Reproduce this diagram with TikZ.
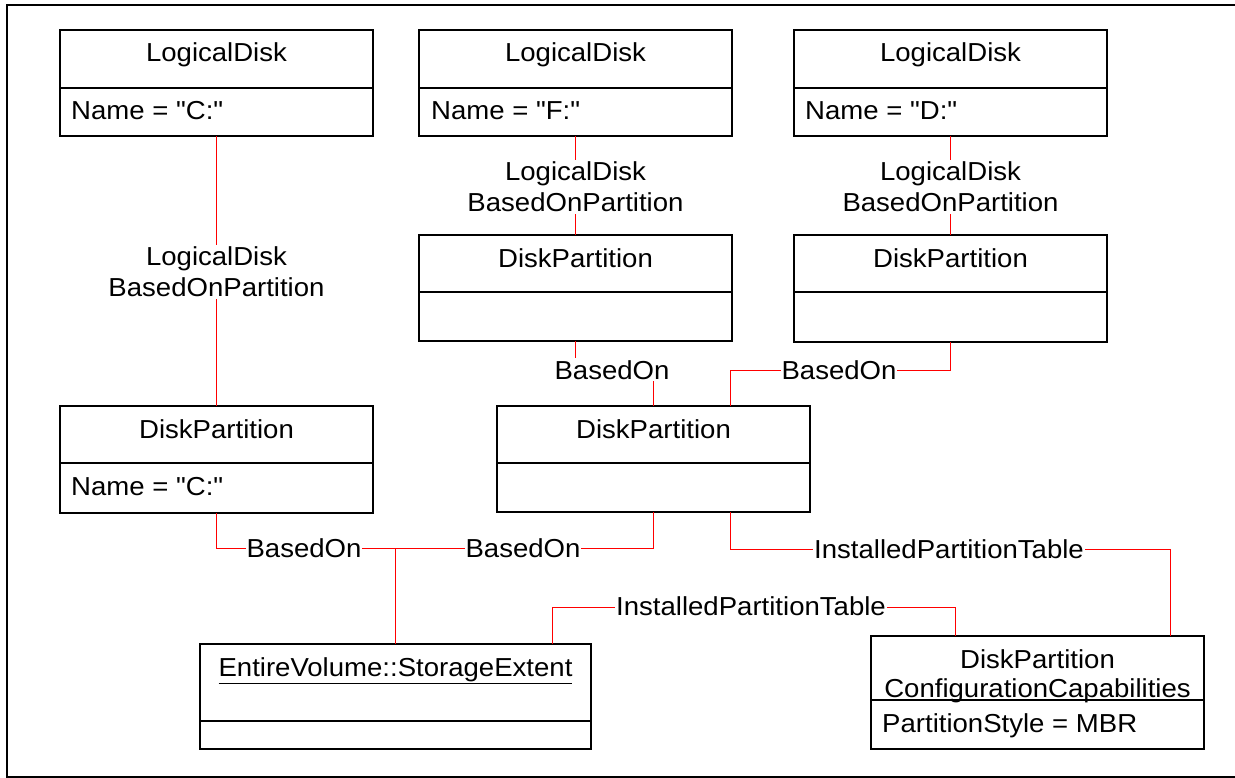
\documentclass[tikz,border=0pt]{standalone}
\usepackage{fontspec}
\newfontfamily\dgface[FakeStretch=1.06]{Liberation Sans}
\newcommand\dgfont{\dgface\fontsize{26bp}{31bp}\selectfont}
\begin{document}
\begin{tikzpicture}[x=1bp,y=-1bp,
  umlbox/.style={draw=black,line width=1.3bp,anchor=north west,inner sep=0pt,outer sep=0pt},
  divline/.style={draw=black,line width=1.3bp},
  conn/.style={draw=red,line width=1.5bp},
  lbl/.style={fill=white,inner xsep=1bp,inner ysep=2bp,font=\dgfont,align=center},
  ttl/.style={anchor=base,font=\dgfont,inner sep=0pt},
  attr/.style={anchor=base west,font=\dgfont,inner sep=0pt},
  frame/.style={draw=black,line width=2bp}]
\useasboundingbox (0,0) rectangle (1235,778);
% outer frame
\draw[frame] (1236,5) -- (7,5) -- (7,777) -- (1236,777);

% boxes
\node[umlbox,minimum width=313bp,minimum height=106bp] (ld1) at (60,30) {};
\node[umlbox,minimum width=313bp,minimum height=106bp] (ld2) at (419,30) {};
\node[umlbox,minimum width=313bp,minimum height=106bp] (ld3) at (794,30) {};
\node[umlbox,minimum width=313bp,minimum height=106bp] (dp2) at (419,235) {};
\node[umlbox,minimum width=313bp,minimum height=107bp] (dp3) at (794,235) {};
\node[umlbox,minimum width=313bp,minimum height=107bp] (dp1) at (60,406) {};
\node[umlbox,minimum width=313bp,minimum height=106bp] (dpc) at (497,406) {};
\node[umlbox,minimum width=391bp,minimum height=105bp] (st) at (200,644) {};
\node[umlbox,minimum width=333bp,minimum height=113bp] (dpcc) at (871,636) {};

% dividers
\foreach \b/\d in {ld1/58,ld2/58,ld3/58,dp2/57,dp3/57,dp1/57,dpc/57,st/77,dpcc/64}
  \draw[divline] ([yshift=-\d bp]\b.north west) -- ([yshift=-\d bp]\b.north east);

% titles
\node[ttl] (ld1t) at (216.5,62) {LogicalDisk};
\node[ttl] (ld2t) at (575.5,62) {LogicalDisk};
\node[ttl] (ld3t) at (950.5,62) {LogicalDisk};
\node[ttl] (dp2t) at (575.5,267) {DiskPartition};
\node[ttl] (dp3t) at (950.5,267) {DiskPartition};
\node[ttl] (dp1t) at (216.5,438) {DiskPartition};
\node[ttl] (dpct) at (653.5,438) {DiskPartition};
\node[ttl] (stt) at (395.5,676) {\underline{EntireVolume::StorageExtent}};
\node[ttl] (dpcct1) at (1037.5,668) {DiskPartition};
\node[ttl] (dpcct2) at (1037.5,697) {ConfigurationCapabilities};

% attributes
\node[attr] (ld1a) at (71,120) {Name = "C:"};
\node[attr] (ld2a) at (431,120) {Name = "F:"};
\node[attr] (ld3a) at (805,120) {Name = "D:"};
\node[attr] (dp1a) at (71,495) {Name = "C:"};
\node[attr] (dpcca) at (882,732) {PartitionStyle = MBR};

% connectors
\draw[conn] (ld1.south) -- (dp1.north);
\node[lbl] (l1) at (216.5,272) {LogicalDisk\\BasedOnPartition};
\draw[conn] (ld2.south) -- (dp2.north);
\node[lbl] (l2) at (575.5,187) {LogicalDisk\\BasedOnPartition};
\draw[conn] (ld3.south) -- (dp3.north);
\node[lbl] (l3) at (950.5,187) {LogicalDisk\\BasedOnPartition};

\draw[conn] (dp2.south) -- ++(0,29.5) -| (dpc.north);
\node[lbl,anchor=base] (l4) at (612,379) {BasedOn};
\draw[conn] (dp3.south) -- ++(0,28.5) -| ([xshift=77bp]dpc.north);
\node[lbl,anchor=base] (l5) at (839,379) {BasedOn};

\draw[conn] (dp1.south) -- ++(0,35.5) -| (st.north);
\node[lbl,anchor=base] (l6) at (304,557) {BasedOn};
\draw[conn] (dpc.south) -- ++(0,36.5) -| (st.north);
\node[lbl,anchor=base] (l7) at (523,557) {BasedOn};

\draw[conn] ([xshift=157bp]st.north) -- ++(0,-36.5) -| ([xshift=-82bp]dpcc.north);
\node[lbl,anchor=base] (l8) at (751,615) {InstalledPartitionTable};
\draw[conn] ([xshift=77bp]dpc.south) -- ++(0,37.5) -| ([xshift=133bp]dpcc.north);
\node[lbl,anchor=base] (l9) at (949,558) {InstalledPartitionTable};
\end{tikzpicture}
\end{document}
